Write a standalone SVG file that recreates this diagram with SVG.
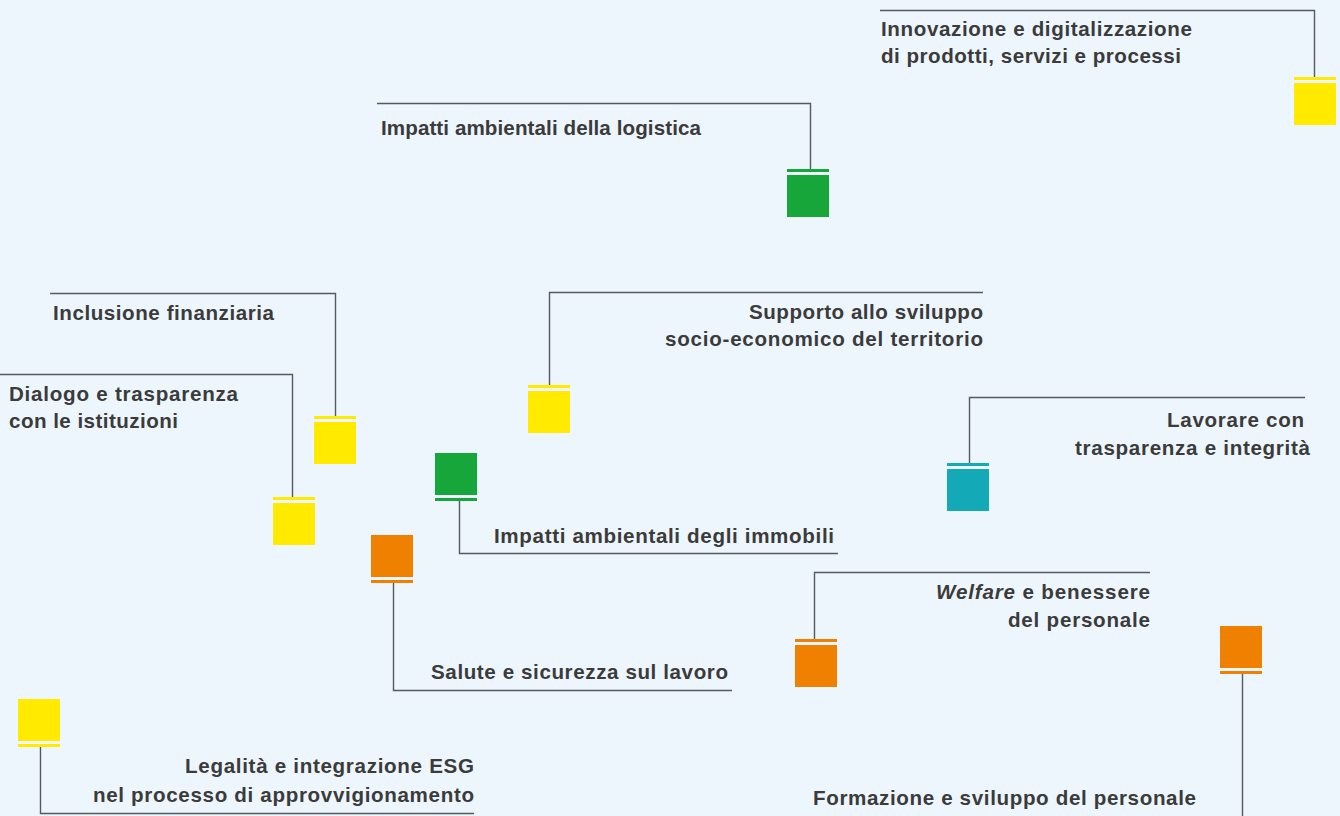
<svg xmlns="http://www.w3.org/2000/svg" width="1340" height="816" viewBox="0 0 1340 816">
<style>
.bg{fill:#EEF6FD}
.t{font-family:"Liberation Sans",Arial,sans-serif;font-weight:bold;font-size:20.6px;fill:#3b3b3b}
.c{fill:none;stroke:#555a5e;stroke-width:1.4}
.y{fill:#FFEA00}
.g{fill:#16A63A}
.o{fill:#F08000}
.b{fill:#14A9B6}
</style>
<rect class="bg" x="0" y="0" width="1340" height="816"/>
<g id="connectors">
<polyline class="c" points="880,10.5 1314.5,10.5 1314.5,77"/>
<polyline class="c" points="377,103.5 810.5,103.5 810.5,169"/>
<polyline class="c" points="50,293.5 335.5,293.5 335.5,416"/>
<polyline class="c" points="0,374.5 292.5,374.5 292.5,497"/>
<polyline class="c" points="983,292.5 549.5,292.5 549.5,385"/>
<polyline class="c" points="459.5,501 459.5,553.5 838,553.5"/>
<polyline class="c" points="393.5,583 393.5,690.5 732,690.5"/>
<polyline class="c" points="1305,397.5 969.5,397.5 969.5,463"/>
<polyline class="c" points="40.5,747 40.5,813.5 474,813.5"/>
<polyline class="c" points="1242.5,674 1242.5,816"/>
<polyline class="c" points="1150,572.5 814.5,572.5 814.5,639"/>
</g>
<g id="n-innovazione">
<rect class="y" x="1294" y="77" width="42" height="3"/>
<rect class="y" x="1294" y="83" width="42" height="42"/>
<text class="t" x="881" y="36" textLength="311" lengthAdjust="spacing">Innovazione e digitalizzazione</text>
<text class="t" x="881" y="63" textLength="300" lengthAdjust="spacing">di prodotti, servizi e processi</text>
</g>
<g id="n-logistica">
<rect class="g" x="787" y="169" width="42" height="3"/>
<rect class="g" x="787" y="175" width="42" height="42"/>
<text class="t" x="381" y="135" textLength="320" lengthAdjust="spacing">Impatti ambientali della logistica</text>
</g>
<g id="n-inclusione">
<rect class="y" x="314" y="416" width="42" height="3"/>
<rect class="y" x="314" y="422" width="42" height="42"/>
<text class="t" x="53" y="320" textLength="221" lengthAdjust="spacing">Inclusione finanziaria</text>
</g>
<g id="n-dialogo">
<rect class="y" x="273" y="497" width="42" height="3"/>
<rect class="y" x="273" y="503" width="42" height="42"/>
<text class="t" x="9" y="401" textLength="229" lengthAdjust="spacing">Dialogo e trasparenza</text>
<text class="t" x="9" y="428" textLength="169" lengthAdjust="spacing">con le istituzioni</text>
</g>
<g id="n-supporto">
<rect class="y" x="528" y="385" width="42" height="3"/>
<rect class="y" x="528" y="391" width="42" height="42"/>
<text class="t" x="749" y="319" textLength="234" lengthAdjust="spacing">Supporto allo sviluppo</text>
<text class="t" x="665" y="346" textLength="318" lengthAdjust="spacing">socio-economico del territorio</text>
</g>
<g id="n-immobili">
<rect class="g" x="435" y="453" width="42" height="42"/>
<rect class="g" x="435" y="498" width="42" height="3"/>
<text class="t" x="494" y="543" textLength="340" lengthAdjust="spacing">Impatti ambientali degli immobili</text>
</g>
<g id="n-salute">
<rect class="o" x="371" y="535" width="42" height="42"/>
<rect class="o" x="371" y="580" width="42" height="3"/>
<text class="t" x="431" y="679" textLength="297" lengthAdjust="spacing">Salute e sicurezza sul lavoro</text>
</g>
<g id="n-lavorare">
<rect class="b" x="947" y="463" width="42" height="3"/>
<rect class="b" x="947" y="469" width="42" height="42"/>
<text class="t" x="1167" y="427" textLength="137" lengthAdjust="spacing">Lavorare con</text>
<text class="t" x="1075" y="455" textLength="235" lengthAdjust="spacing">trasparenza e integrità</text>
</g>
<g id="n-legalita">
<rect class="y" x="18" y="699" width="42" height="42"/>
<rect class="y" x="18" y="744" width="42" height="3"/>
<text class="t" x="185" y="773" textLength="289" lengthAdjust="spacing">Legalità e integrazione ESG</text>
<text class="t" x="93" y="802" textLength="381" lengthAdjust="spacing">nel processo di approvvigionamento</text>
</g>
<g id="n-formazione">
<rect class="o" x="1220" y="626" width="42" height="42"/>
<rect class="o" x="1220" y="671" width="42" height="3"/>
<text class="t" x="813" y="805" textLength="383" lengthAdjust="spacing">Formazione e sviluppo del personale</text>
</g>
<g id="n-welfare">
<rect class="o" x="795" y="639" width="42" height="3"/>
<rect class="o" x="795" y="645" width="42" height="42"/>
<text class="t" x="936" y="599" textLength="214" lengthAdjust="spacing"><tspan font-style="italic">Welfare</tspan> e benessere</text>
<text class="t" x="1008" y="627" textLength="142" lengthAdjust="spacing">del personale</text>
</g>
</svg>
